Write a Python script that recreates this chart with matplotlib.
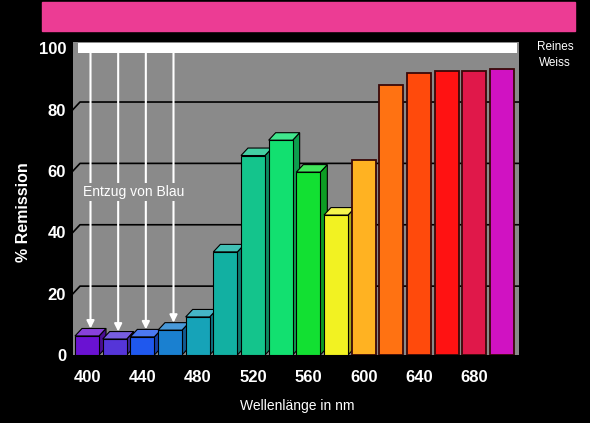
import matplotlib.pyplot as plt
from matplotlib.patches import Polygon, Rectangle

# Wellenlänge (nm) und Remission (%)
wellenlaenge = [400, 420, 440, 460, 480, 500, 520, 540, 560, 580,
                600, 620, 640, 660, 680, 700]
remission = [6.2, 5.2, 5.9, 8.1, 12.4, 33.6, 65.0, 70.0, 59.6, 45.6,
             63.5, 88.0, 91.9, 92.5, 92.5, 93.2]
farben = ['#6a12d2', '#5535d8', '#1f58ee', '#1a80d0', '#16a3b8', '#12b0a2',
          '#14c48c', '#12e070', '#12e032', '#f2f222', '#ffb222', '#ff7212',
          '#ff4a0c', '#ff1212', '#e0184a', '#d012c2']
blau_pfeile = [400, 420, 440, 460]
x_ticks = [400, 440, 480, 520, 560, 600, 640, 680]
y_ticks = [0, 20, 40, 60, 80, 100]

W, H = 590, 423
nm_px = 300 / 415.0      # nm pro Pixel
pc_px = 1 / 3.07         # % pro Pixel
dx = 7 * nm_px           # Tiefe
dy = 7.5 * pc_px
breite = 24 * nm_px
grau = '#8a8a8a'
fam = ['Liberation Sans', 'DejaVu Sans']


def shade(c, f):
    import matplotlib.colors as mc
    r, g, b = mc.to_rgb(c)
    if f < 1:
        return (r * f, g * f, b * f)
    f = f - 1
    return (r + (1 - r) * f, g + (1 - g) * f, b + (1 - b) * f)


fig = plt.figure(figsize=(W / 100, H / 100), dpi=100, facecolor='black')
fig.add_artist(Rectangle((42 / W, 1 - 31 / H), (575 - 42) / W, 29 / H,
                         transform=fig.transFigure, color='#ec3c94'))

ax = fig.add_axes([73 / W, (H - 355) / H, 446 / W, 313 / H])
ax.set_facecolor(grau)
x0 = 400 - 14 * nm_px
x1 = 700 + 17 * nm_px
ax.set_xlim(x0, x1)
ax.set_ylim(0, 102)
for s in ax.spines.values():
    s.set_visible(False)

# Rückwand-Gitterlinien mit Knick
for v in y_ticks[1:-1]:
    ax.plot([x0, x0 + dx, x1], [v, v + dy, v + dy], color='black', lw=1.2, zorder=1)

# weisser Balken oben
ax.add_patch(Rectangle((x0 + 5 * nm_px, 98.4), (517 - 78) * nm_px, 3.2,
                       facecolor='white', edgecolor='none', zorder=2))

# Säulen
for i, (wl, v, c) in enumerate(zip(wellenlaenge, remission, farben)):
    xl = wl - breite / 2
    xr = wl + breite / 2
    z = 3 + i
    if wl < 600:
        ax.add_patch(Polygon([(xr, 0), (xr + dx, dy), (xr + dx, v + dy), (xr, v)],
                             closed=True, facecolor=shade(c, 0.7),
                             edgecolor='black', lw=0.8, zorder=z))
        ax.add_patch(Polygon([(xl, v), (xr, v), (xr + dx, v + dy), (xl + dx, v + dy)],
                             closed=True, facecolor=shade(c, 1.2),
                             edgecolor='black', lw=0.8, zorder=z))
        ax.bar(wl, v, width=breite, color=c, edgecolor='black', lw=0.8, zorder=z)
    else:
        ax.bar(wl, v, width=breite, color=c, edgecolor='#3a0808', lw=1.3, zorder=z)

# Pfeile "Entzug von Blau"
for wl in blau_pfeile:
    v = remission[wellenlaenge.index(wl)]
    xa = wl + dx / 2
    ax.annotate('', xy=(xa, v + dy), xytext=(xa, 98.4),
                arrowprops=dict(arrowstyle='-|>', color='white', lw=1.5,
                                mutation_scale=11, shrinkA=0, shrinkB=0),
                zorder=30)
ax.text(x0 + 10 * nm_px, 53.1, 'Entzug von Blau', color='white', fontsize=10,
        ha='left', va='center', zorder=31, family=fam,
        bbox=dict(facecolor=grau, edgecolor='none', pad=1.5))

tick_font = dict(family=fam, weight='bold', size=12)
ax.set_xticks(x_ticks)
ax.set_xticklabels([str(t) for t in x_ticks], **tick_font)
ax.set_yticks(y_ticks)
ax.set_yticklabels([str(t) for t in y_ticks], **tick_font)
ax.tick_params(axis='x', length=0, pad=11, colors='white')
ax.tick_params(axis='y', length=0, pad=5, colors='white')

fig.text(24 / W, 1 - 212 / H, '% Remission', rotation=90, color='white',
         fontsize=11.5, weight='bold', ha='center', va='center', family=fam)
fig.text(297 / W, 1 - 406 / H, 'Wellenlänge in nm', color='white', fontsize=10,
         ha='center', va='center', family=fam)
fig.text(555 / W, 1 - 47 / H, 'Reines', color='white', fontsize=8.5,
         ha='center', va='center', family=fam)
fig.text(555 / W, 1 - 63 / H, 'Weiss', color='white', fontsize=8.5,
         ha='center', va='center', family=fam)

fig.savefig('out.png', dpi=100, facecolor='black')
